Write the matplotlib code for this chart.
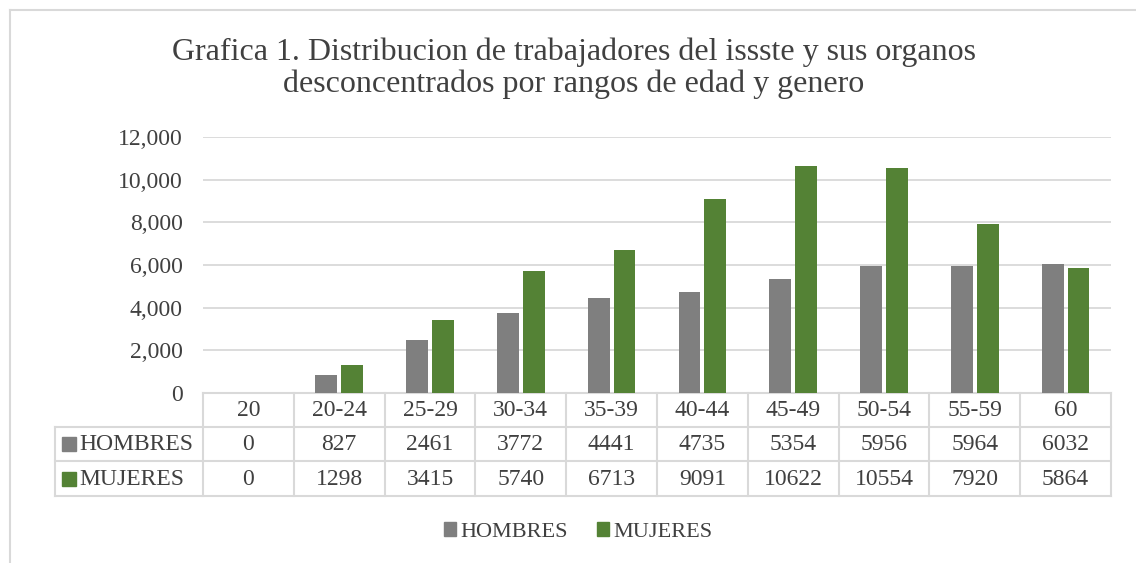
import matplotlib
matplotlib.use("Agg")
import matplotlib.pyplot as plt
from matplotlib.patches import Rectangle
from matplotlib.lines import Line2D
import matplotlib.transforms as mtransforms

categories = ["20", "20-24", "25-29", "30-34", "35-39", "40-44", "45-49", "50-54", "55-59", "60"]
hombres = [0, 827, 2461, 3772, 4441, 4735, 5354, 5956, 5964, 6032]
mujeres = [0, 1298, 3415, 5740, 6713, 9091, 10622, 10554, 7920, 5864]
series_names = ["HOMBRES", "MUJERES"]
yticks = [0, 2000, 4000, 6000, 8000, 10000, 12000]
title = "Grafica 1. Distribucion de trabajadores del issste y sus organos\ndesconcentrados por rangos de edad y genero"

GRAY = "#7f7f7f"
GREEN = "#548235"
GRID = "#d9d9d9"
TXT = "#404040"
FONT = "Liberation Serif"

W, H = 1136, 563
fig = plt.figure(figsize=(W / 100, H / 100), dpi=100)
plt.rcParams['font.family'] = [FONT, 'DejaVu Serif']

left, right, top, bottom = 203, 1111, 137, 393
ax = fig.add_axes([left / W, (H - bottom) / H, (right - left) / W, (bottom - top) / H])

n = len(categories)
xs = list(range(n))
bw = 0.24
off = 0.143
ax.bar([x - off for x in xs], hombres, width=bw, color=GRAY, zorder=3)
ax.bar([x + off for x in xs], mujeres, width=bw, color=GREEN, zorder=3)
ax.set_xlim(-0.5, n - 0.5)
ax.set_ylim(0, 12000)
ax.set_yticks(yticks)
ax.set_yticklabels([f"{v:,}" for v in yticks], fontsize=17, color=TXT, family=FONT)
ax.tick_params(axis='y', length=0, pad=14.4)
ax.set_xticks([])
for s in ax.spines.values():
    s.set_visible(False)
ax.grid(axis='y', color=GRID, linewidth=1.3, zorder=0)
ax.set_axisbelow(True)

trans = mtransforms.blended_transform_factory(ax.transData, ax.transAxes)
ph = bottom - top
def ya(ypix):
    return (bottom - ypix) / ph

row_edges = [393, 427, 461, 496]
lw = 1.5
ax.add_line(Line2D([-0.5, n - 0.5], [ya(393), ya(393)], transform=trans, color=GRID, lw=lw, clip_on=False))
label_left_x = -0.5 - (203 - 55) / ((right - left) / n)
for yp in row_edges[1:]:
    ax.add_line(Line2D([label_left_x, n - 0.5], [ya(yp), ya(yp)], transform=trans, color=GRID, lw=lw, clip_on=False))
for i in range(n + 1):
    ax.add_line(Line2D([i - 0.5, i - 0.5], [ya(393), ya(496)], transform=trans, color=GRID, lw=lw, clip_on=False))
ax.add_line(Line2D([label_left_x, label_left_x], [ya(427), ya(496)], transform=trans, color=GRID, lw=lw, clip_on=False))

for i, c in enumerate(categories):
    ax.text(i, ya(411), c, transform=trans, ha='center', va='center', fontsize=17, color=TXT, clip_on=False)
for r, (vals, name, col) in enumerate([(hombres, series_names[0], GRAY), (mujeres, series_names[1], GREEN)]):
    yc = ya(445 + 34.5 * r)
    for i, v in enumerate(vals):
        ax.text(i, yc, str(v), transform=trans, ha='center', va='center', fontsize=17, color=TXT, clip_on=False)
    fig.patches.append(Rectangle((62 / W, (H - 444 - 34.5 * r - 7) / H), 14 / W, 14 / H,
                                 transform=fig.transFigure, color=col))
    fig.text(79 / W, (H - 445 - 34.5 * r) / H, name, ha='left', va='center', fontsize=17, color=TXT)

fig.text(574 / W, (H - 68) / H, title, ha='center', va='center', fontsize=23, color=TXT, linespacing=1.12)

handles = [Rectangle((0, 0), 1, 1, color=GRAY), Rectangle((0, 0), 1, 1, color=GREEN)]
fig.legend(handles, series_names, loc='center', bbox_to_anchor=(578 / W, (H - 532) / H), ncol=2,
           frameon=False, fontsize=16, labelcolor=TXT, handlelength=0.55, handleheight=0.55,
           handletextpad=0.2, columnspacing=1.3)

fig.add_artist(Line2D([10 / W, 10 / W], [0, (H - 10) / H], transform=fig.transFigure, color=GRID, lw=1.5))
fig.add_artist(Line2D([10 / W, 1], [(H - 10) / H, (H - 10) / H], transform=fig.transFigure, color=GRID, lw=1.5))

fig.savefig("out.png", dpi=100)
